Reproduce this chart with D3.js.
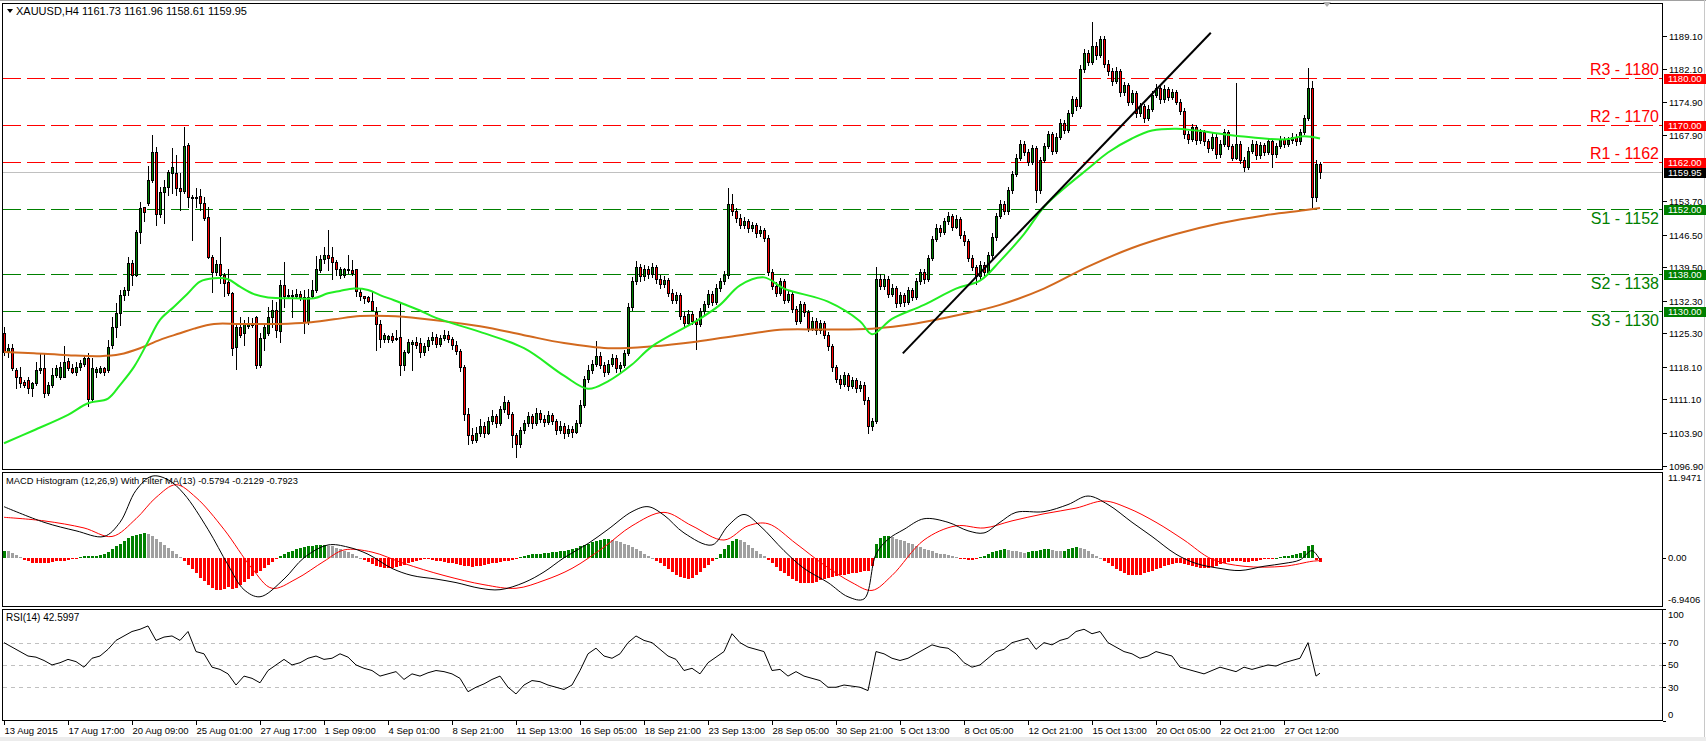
<!DOCTYPE html>
<html><head><meta charset="utf-8">
<script src="https://cdn.jsdelivr.net/npm/d3@7"></script>
<style>body{margin:0;background:#fff;overflow:hidden}svg{display:block;font-family:"Liberation Sans",Arial,sans-serif}</style>
</head><body><svg id="chart" width="1706" height="741"></svg>
<script>
// ---------------- DATA ----------------
const symbolTitle = "XAUUSD,H4  1161.73 1161.96 1158.61 1159.95";
const macdTitle = "MACD Histogram (12,26,9) With Filter MA(13) -0.5794 -0.2129 -0.7923";
const rsiTitle = "RSI(14) 42.5997";
const xTickLabels = ["13 Aug 2015","17 Aug 17:00","20 Aug 09:00","25 Aug 01:00","27 Aug 17:00","1 Sep 09:00","4 Sep 01:00","8 Sep 21:00","11 Sep 13:00","16 Sep 05:00","18 Sep 21:00","23 Sep 13:00","28 Sep 05:00","30 Sep 21:00","5 Oct 13:00","8 Oct 05:00","12 Oct 21:00","15 Oct 13:00","20 Oct 05:00","22 Oct 21:00","27 Oct 12:00"];
const xTickBars = [0,16,32,48,64,80,96,112,128,144,160,176,192,208,224,240,256,272,288,304,320];
const priceTicks = [1189.10,1182.10,1174.90,1167.90,1153.70,1146.50,1139.50,1132.30,1125.30,1118.10,1111.10,1103.90,1096.90];
const levelNames = ["R3","R2","R1","S1","S2","S3"];
const levelValues = [1180,1170,1162,1152,1138,1130];
const bidPrice = 1159.95;
const macdTopLabel = 11.9471, macdBottomLabel = -6.9406;
const rsiLevels = [70,50,30];
const rsiAxisLabels = [100,70,50,30,0];
const trendBars = [224.7, 301.7];
const trendPrices = [1121.0, 1189.8];

const opens = [
1125.3,1121.2,1122.1,1117.4,1116.0,1114.9,1115.3,1113.5,1114.6,1117.4,
1117.8,1112.4,1114.2,1116.3,1116.0,1116.0,1119.4,1117.8,1117.1,1118.1,
1118.7,1119.9,1111.3,1116.9,1117.1,1117.8,1117.4,1122.8,1126.7,1129.6,
1133.5,1134.6,1140.3,1137.8,1147.1,1152.5,1153.2,1158.2,1164.3,1150.9,
1155.7,1156.8,1159.6,1159.6,1156.4,1155.9,1165.7,1154.5,1154.6,1154.8,
1153.2,1150.2,1141.6,1138.4,1140.2,1137.8,1136.3,1133.9,1122.4,1126.7,
1125.3,1126.8,1127.4,1128.9,1118.5,1124.2,1125.3,1128.9,1130.4,1125.7,
1135.7,1133.2,1133.5,1133.2,1133.8,1133.1,1127.8,1133.3,1134.5,1138.9,
1141.2,1142.1,1141.6,1140.5,1137.8,1137.8,1139.0,1138.9,1139.0,1134.2,
1133.3,1133.1,1132.3,1129.9,1127.4,1124.0,1124.0,1124.7,1124.0,1124.6,
1118.5,1121.3,1123.0,1123.5,1123.2,1121.3,1122.5,1123.8,1124.5,1123.0,
1124.2,1125.0,1124.0,1122.8,1121.5,1118.0,1108.0,1103.5,1102.5,1104.0,
1105.5,1104.0,1106.5,1107.5,1106.0,1109.0,1110.5,1108.0,1103.5,1101.5,
1104.5,1106.0,1107.5,1106.0,1108.3,1107.0,1106.2,1107.8,1106.5,1104.5,
1105.5,1103.8,1104.8,1104.2,1106.0,1110.0,1115.5,1117.5,1118.8,1120.5,
1118.5,1117.0,1118.8,1120.0,1117.8,1118.5,1121.0,1131.0,1136.5,1139.5,
1137.5,1139.2,1138.0,1139.5,1137.0,1135.8,1136.8,1134.0,1132.5,1133.5,
1129.0,1127.5,1129.5,1128.0,1127.2,1130.0,1131.5,1133.8,1132.0,1135.0,
1136.5,1137.8,1153.0,1151.5,1150.0,1148.5,1149.3,1147.8,1148.5,1146.8,
1147.5,1145.8,1138.5,1135.5,1134.0,1136.5,1132.5,1133.8,1130.5,1128.0,
1131.5,1129.8,1126.5,1128.0,1126.0,1127.5,1125.0,1122.5,1118.0,1115.5,
1114.5,1116.3,1114.0,1115.2,1113.5,1114.3,1111.0,1105.5,1106.5,1137.0,
1135.5,1137.0,1133.8,1135.0,1131.8,1133.5,1132.0,1134.5,1133.0,1136.5,
1138.5,1137.0,1141.5,1145.5,1148.0,1147.0,1149.3,1150.5,1148.2,1149.8,
1146.5,1145.0,1141.5,1139.5,1137.5,1140.0,1138.5,1142.0,1146.0,1150.5,
1153.0,1151.5,1156.0,1159.5,1163.0,1166.0,1164.2,1162.0,1165.0,1156.0,
1162.5,1165.5,1168.0,1164.5,1167.5,1170.5,1169.0,1172.5,1175.5,1174.0,
1182.0,1185.5,1183.5,1187.0,1185.0,1188.5,1183.0,1181.5,1179.5,1181.5,
1177.0,1178.5,1175.0,1176.8,1172.5,1174.0,1171.5,1173.5,1176.5,1178.0,
1175.5,1177.8,1176.0,1177.0,1175.0,1173.0,1168.0,1167.0,1169.5,1166.8,
1168.5,1166.5,1165.0,1167.5,1163.8,1166.0,1168.5,1165.5,1163.0,1166.0,
1162.5,1161.0,1164.5,1166.0,1163.5,1165.8,1164.2,1166.5,1163.8,1165.5,
1167.0,1166.0,1166.8,1167.5,1166.5,1168.5,1171.5,1178.0,1154.5,1161.73];
const highs = [
1126.7,1123.1,1123.1,1117.8,1118.1,1115.3,1116.0,1114.9,1119.2,1121.0,
1121.0,1114.9,1117.8,1118.5,1119.2,1122.6,1119.9,1118.8,1119.2,1119.6,
1120.6,1121.0,1119.9,1118.1,1118.3,1118.1,1123.9,1128.9,1131.7,1134.6,
1135.3,1141.7,1141.0,1147.5,1153.5,1152.5,1161.1,1167.9,1165.3,1156.8,
1158.2,1160.3,1165.0,1163.6,1159.6,1169.6,1166.1,1155.0,1156.4,1156.2,
1154.6,1152.5,1142.1,1141.0,1146.0,1138.2,1139.2,1134.2,1127.4,1128.9,
1128.2,1128.9,1128.5,1129.0,1125.3,1127.1,1131.0,1132.4,1132.1,1136.8,
1140.7,1134.9,1134.6,1134.7,1134.4,1134.6,1134.9,1136.8,1141.9,1142.1,
1143.9,1147.5,1143.9,1141.0,1139.6,1139.4,1142.1,1141.0,1139.2,1134.9,
1133.3,1133.3,1134.2,1131.0,1128.2,1125.3,1125.0,1125.3,1126.0,1131.7,
1121.7,1124.0,1123.9,1124.6,1124.2,1123.2,1124.4,1125.6,1125.2,1124.9,
1126.0,1125.8,1124.6,1123.6,1122.0,1118.6,1109.2,1105.0,1105.2,1107.0,
1106.2,1107.4,1108.8,1108.0,1109.8,1111.8,1111.0,1108.4,1104.0,1105.2,
1106.8,1108.4,1108.0,1109.2,1108.9,1107.8,1108.6,1108.3,1107.0,1106.4,
1106.0,1105.6,1105.4,1106.8,1111.0,1116.2,1118.4,1119.6,1123.7,1121.2,
1119.2,1119.6,1120.8,1120.6,1119.2,1121.8,1131.8,1137.4,1140.8,1140.2,
1140.0,1139.8,1140.4,1140.0,1137.8,1137.6,1137.2,1134.8,1134.2,1134.0,
1129.8,1130.2,1130.0,1128.6,1130.8,1132.2,1134.6,1134.4,1135.8,1137.2,
1138.6,1156.5,1155.2,1152.2,1150.8,1150.2,1149.8,1149.2,1149.0,1148.4,
1148.0,1146.4,1139.2,1136.4,1137.2,1137.0,1134.6,1134.4,1131.2,1132.2,
1132.0,1130.4,1128.8,1128.6,1128.2,1128.0,1125.6,1123.0,1118.6,1116.4,
1117.0,1116.8,1116.0,1115.8,1115.0,1114.8,1111.6,1107.2,1139.5,1138.0,
1137.8,1137.6,1135.8,1135.4,1134.2,1134.0,1135.2,1135.0,1137.2,1139.2,
1139.0,1142.2,1146.2,1148.8,1148.6,1150.0,1151.4,1151.0,1150.6,1150.2,
1147.2,1145.6,1142.2,1140.0,1140.8,1140.6,1142.8,1146.8,1151.2,1153.8,
1153.6,1156.8,1160.2,1163.8,1166.8,1166.6,1164.8,1165.8,1165.6,1163.2,
1166.2,1168.8,1168.6,1168.2,1171.2,1171.0,1173.2,1176.2,1176.0,1182.8,
1186.4,1186.0,1192.0,1187.8,1189.2,1189.2,1184.0,1182.2,1182.4,1182.0,
1179.2,1179.0,1177.6,1177.2,1174.8,1174.6,1174.2,1177.2,1178.8,1178.6,
1178.6,1178.2,1177.8,1177.6,1175.6,1173.6,1168.8,1170.2,1170.0,1169.2,
1169.0,1167.0,1168.2,1168.0,1166.8,1169.2,1169.0,1166.0,1179.0,1166.6,
1163.2,1165.2,1166.8,1166.6,1166.4,1166.2,1167.2,1167.0,1166.2,1167.6,
1167.4,1167.4,1168.2,1168.0,1169.2,1172.2,1182.3,1179.4,1162.5,1161.96];
const lows = [
1120.6,1120.3,1117.4,1113.5,1113.8,1113.8,1112.4,1111.8,1114.2,1116.7,
1111.7,1112.0,1113.8,1116.0,1115.6,1115.9,1117.4,1116.7,1116.3,1117.4,
1118.3,1109.6,1110.6,1116.0,1116.7,1116.3,1117.1,1122.1,1124.6,1127.1,
1132.4,1133.5,1135.7,1137.5,1144.6,1149.3,1152.8,1157.8,1148.5,1150.3,
1148.9,1155.0,1155.3,1155.0,1151.8,1155.3,1152.5,1145.3,1152.5,1151.8,
1149.6,1141.4,1134.2,1137.8,1136.0,1133.2,1133.5,1120.6,1117.6,1124.6,
1122.8,1126.4,1126.6,1117.8,1118.1,1121.7,1124.9,1126.7,1124.6,1123.5,
1131.0,1132.8,1128.9,1133.0,1132.4,1125.3,1127.4,1132.8,1134.2,1138.5,
1140.3,1138.9,1136.9,1137.8,1137.1,1137.4,1138.2,1137.8,1133.2,1132.4,
1131.7,1132.1,1130.3,1121.7,1122.4,1123.5,1123.4,1123.5,1123.9,1116.3,
1117.4,1121.0,1117.4,1122.1,1120.3,1120.6,1121.8,1123.0,1122.4,1122.6,
1123.8,1123.5,1122.0,1120.8,1117.2,1106.8,1101.5,1101.8,1101.9,1103.2,
1103.0,1103.6,1105.8,1105.2,1105.6,1108.4,1107.2,1101.0,1098.8,1100.8,
1103.8,1105.4,1105.0,1105.6,1106.2,1105.4,1105.8,1105.8,1103.6,1103.9,
1102.8,1103.2,1103.1,1103.8,1105.5,1109.4,1114.8,1116.8,1118.2,1117.8,
1116.2,1116.5,1118.2,1117.0,1116.8,1118.0,1120.6,1130.2,1135.8,1136.6,
1136.8,1137.2,1137.4,1136.2,1135.0,1135.2,1133.4,1131.8,1131.9,1128.4,
1126.8,1127.0,1127.4,1122.0,1126.8,1129.5,1131.0,1131.4,1131.6,1134.4,
1135.9,1137.2,1150.6,1149.2,1147.8,1148.0,1147.0,1147.2,1146.0,1146.2,
1145.0,1137.8,1134.8,1133.2,1133.6,1131.8,1132.0,1129.8,1127.2,1127.6,
1129.0,1125.8,1126.0,1125.2,1125.4,1124.2,1121.8,1117.2,1114.8,1113.6,
1114.0,1113.2,1113.5,1112.8,1113.0,1110.2,1104.0,1104.6,1106.0,1134.8,
1134.9,1133.0,1133.2,1131.0,1131.2,1131.2,1131.6,1132.4,1132.6,1135.9,
1136.2,1136.5,1141.0,1145.0,1146.2,1146.6,1148.8,1147.4,1147.8,1145.8,
1144.2,1140.8,1138.8,1135.8,1137.0,1137.8,1138.0,1141.4,1145.4,1150.0,
1150.8,1151.0,1155.4,1159.0,1162.4,1163.6,1161.4,1161.6,1153.5,1155.4,
1162.0,1165.0,1163.8,1164.0,1167.0,1168.2,1168.6,1172.0,1173.2,1173.6,
1181.4,1182.8,1183.0,1184.2,1184.6,1182.4,1180.8,1178.6,1179.0,1176.2,
1176.4,1174.2,1174.6,1171.8,1172.0,1170.6,1171.0,1173.0,1176.0,1174.8,
1175.0,1175.4,1175.6,1174.4,1172.4,1167.2,1166.2,1166.6,1166.0,1166.2,
1165.8,1164.2,1164.6,1163.0,1163.2,1165.4,1164.8,1162.4,1162.6,1161.8,
1160.2,1160.6,1164.0,1162.8,1163.0,1163.6,1163.8,1161.0,1163.2,1165.0,
1165.2,1165.4,1166.2,1165.8,1166.0,1168.0,1171.0,1152.3,1153.6,1158.61];
const closes = [
1121.3,1122.1,1117.8,1116.0,1114.6,1114.2,1113.5,1114.6,1117.4,1117.8,
1112.4,1114.2,1116.3,1117.8,1118.1,1119.2,1117.8,1117.1,1118.1,1118.9,
1119.9,1111.3,1117.8,1117.6,1117.8,1117.1,1122.4,1126.7,1129.6,1133.5,
1134.6,1140.3,1137.8,1147.1,1152.1,1151.4,1158.2,1164.3,1150.9,1155.7,
1156.8,1160.0,1160.9,1156.4,1155.9,1165.5,1154.5,1154.6,1154.5,1153.2,
1150.0,1141.6,1138.4,1140.2,1137.8,1136.0,1133.9,1122.1,1126.7,1124.9,
1127.4,1127.4,1127.1,1118.5,1124.2,1126.7,1128.9,1130.4,1126.0,1135.7,
1133.2,1133.5,1133.2,1133.8,1133.1,1127.8,1133.1,1134.6,1139.0,1141.2,
1142.1,1141.4,1140.5,1139.2,1139.0,1139.0,1138.9,1138.2,1134.4,1133.3,
1132.8,1132.3,1130.3,1127.4,1124.0,1124.9,1124.8,1123.9,1124.3,1118.5,
1121.3,1123.5,1123.5,1122.8,1121.3,1122.5,1123.8,1124.5,1123.0,1124.2,
1125.0,1124.0,1122.8,1121.5,1118.0,1108.0,1103.5,1102.5,1104.0,1105.5,
1104.0,1106.5,1107.5,1106.0,1109.0,1110.5,1108.0,1103.5,1101.5,1104.5,
1106.0,1107.5,1106.0,1108.3,1107.0,1106.2,1107.8,1106.5,1104.5,1105.5,
1103.8,1104.8,1104.2,1106.0,1110.0,1115.5,1117.5,1118.8,1120.5,1118.5,
1117.0,1118.8,1120.0,1117.8,1118.5,1121.0,1131.0,1136.5,1139.5,1137.5,
1139.2,1138.0,1139.5,1137.0,1135.8,1136.8,1134.0,1132.5,1133.5,1129.0,
1127.5,1129.5,1128.0,1127.2,1130.0,1131.5,1133.8,1132.0,1135.0,1136.5,
1137.8,1153.0,1151.5,1150.0,1148.5,1149.3,1147.8,1148.5,1146.8,1147.5,
1145.8,1138.5,1135.5,1134.0,1136.5,1132.5,1133.8,1130.5,1128.0,1131.5,
1129.8,1126.5,1128.0,1126.0,1127.5,1125.0,1122.5,1118.0,1115.5,1114.5,
1116.3,1114.0,1115.2,1113.5,1114.3,1111.0,1105.5,1106.5,1137.0,1135.5,
1137.0,1133.8,1135.0,1131.8,1133.5,1132.0,1134.5,1133.0,1136.5,1138.5,
1137.0,1141.5,1145.5,1148.0,1147.0,1149.3,1150.5,1148.2,1149.8,1146.5,
1145.0,1141.5,1139.5,1137.5,1140.0,1138.5,1142.0,1146.0,1150.5,1153.0,
1151.5,1156.0,1159.5,1163.0,1166.0,1164.2,1162.0,1165.0,1156.0,1162.5,
1165.5,1168.0,1164.5,1167.5,1170.5,1169.0,1172.5,1175.5,1174.0,1182.0,
1185.5,1183.5,1187.0,1185.0,1188.5,1183.0,1181.5,1179.5,1181.5,1177.0,
1178.5,1175.0,1176.8,1172.5,1174.0,1171.5,1173.5,1176.5,1178.0,1175.5,
1177.8,1176.0,1177.0,1175.0,1173.0,1168.0,1167.0,1169.5,1166.8,1168.5,
1166.5,1165.0,1167.5,1163.8,1166.0,1168.5,1165.5,1163.0,1166.0,1162.5,
1161.0,1164.5,1166.0,1163.5,1165.8,1164.2,1166.5,1163.8,1165.5,1167.0,
1166.0,1166.8,1167.5,1166.5,1168.5,1171.5,1178.0,1154.5,1161.7,1159.95];

const maFastBars = [0,7.5,16,21,26,29,32.5,36,39,42.5,46,49,52.5,56,59,62.5,66,72.5,77.5,81,84,87.5,91,94,97.5,101,104,108,119,130,140,146,151,157,162,173,179,184,190,195,206,214,217,222,230,238,244,249,255,260,266,271,276,282,287,293,298,309,320,325,329];
const maFastValues = [1101.7,1104.5,1107.8,1110.3,1111.3,1114.2,1118.1,1123.5,1128.2,1131.0,1133.9,1136.4,1137.1,1136.9,1135.3,1133.7,1133.0,1132.8,1132.8,1133.9,1134.4,1134.9,1134.6,1133.5,1132.4,1131.2,1130.2,1128.6,1125.6,1122.1,1116.2,1113.4,1115.0,1118.6,1122.5,1127.9,1131.4,1135.6,1137.3,1134.9,1132.1,1127.9,1125.1,1128.4,1131.4,1134.9,1136.6,1140.8,1146.6,1152.4,1157.1,1160.6,1164.1,1167.1,1168.8,1169.2,1168.8,1167.6,1166.9,1167.6,1167.1];
const maSlowBars = [0,7.5,16,24,29,34,39,44,47.5,52.5,59,69,76,82.5,89,96,104,119,130,140,151,162,173,184,195,206,217,228,238,249,260,271,282,293,304,315,325,329];
const maSlowValues = [1121.3,1121.0,1120.6,1120.4,1120.8,1122.1,1123.9,1125.3,1126.3,1127.3,1127.3,1127.3,1127.6,1128.3,1129.0,1129.0,1128.5,1126.8,1124.9,1123.2,1122.1,1122.5,1123.5,1124.9,1126.1,1126.1,1126.3,1127.4,1129.1,1131.4,1134.9,1139.6,1143.6,1146.6,1148.9,1150.6,1151.7,1152.2];

const macdHist = [
1.0,0.9,0.7,0.4,0.1,-0.3,-0.5,-0.7,-0.8,-0.8,
-0.7,-0.7,-0.6,-0.5,-0.5,-0.4,-0.3,-0.2,-0.1,0.1,
0.2,0.2,0.3,0.3,0.4,0.5,0.8,1.2,1.6,2.0,
2.4,2.8,3.0,3.2,3.4,3.5,3.3,3.0,2.6,2.2,
1.8,1.4,1.0,0.5,0.1,-0.4,-1.0,-1.6,-2.2,-2.8,
-3.3,-3.8,-4.2,-4.5,-4.6,-4.4,-4.1,-4.4,-4.2,-3.8,
-3.4,-3.0,-2.6,-2.2,-1.8,-1.4,-1.0,-0.6,-0.2,0.2,
0.5,0.8,1.0,1.2,1.4,1.5,1.6,1.7,1.8,1.8,
1.8,1.7,1.6,1.4,1.2,1.0,0.8,0.5,0.3,0.0,
-0.3,-0.6,-0.9,-1.1,-1.3,-1.4,-1.5,-1.4,-1.3,-1.2,
-1.0,-0.8,-0.6,-0.4,-0.3,-0.2,-0.2,-0.3,-0.4,-0.5,
-0.6,-0.7,-0.8,-0.9,-1.0,-1.1,-1.2,-1.3,-1.2,-1.1,
-1.0,-0.9,-0.8,-0.7,-0.6,-0.5,-0.4,-0.3,-0.2,0.1,
0.3,0.4,0.5,0.6,0.6,0.7,0.7,0.8,0.8,0.9,
1.0,1.1,1.2,1.4,1.6,1.8,2.0,2.2,2.4,2.5,
2.6,2.6,2.5,2.4,2.2,2.0,1.8,1.5,1.2,0.9,
0.6,0.3,0.0,-0.4,-0.8,-1.2,-1.6,-2.0,-2.4,-2.7,
-2.9,-3.0,-2.8,-2.4,-2.0,-1.5,-1.0,-0.5,0.0,0.6,
1.2,1.8,2.3,2.6,2.5,2.2,1.8,1.4,1.0,0.6,
0.2,-0.3,-0.8,-1.3,-1.8,-2.2,-2.6,-3.0,-3.3,-3.5,
-3.6,-3.6,-3.5,-3.4,-3.2,-3.0,-2.8,-2.7,-2.6,-2.5,
-2.4,-2.3,-2.2,-2.1,-2.0,-1.9,-1.8,-1.2,2.0,2.8,
3.0,3.0,2.9,2.7,2.5,2.3,2.1,1.9,1.7,1.5,
1.3,1.1,0.9,0.7,0.6,0.5,0.4,0.3,0.1,-0.1,
-0.2,-0.3,-0.3,-0.2,0.1,0.3,0.6,0.8,1.0,1.1,
1.2,1.1,1.0,0.9,0.8,0.7,0.8,0.9,1.0,1.1,
1.2,1.2,1.1,1.0,0.9,1.0,1.2,1.4,1.5,1.4,
1.2,0.9,0.6,0.3,0.0,-0.4,-0.8,-1.2,-1.6,-1.9,
-2.2,-2.4,-2.5,-2.5,-2.4,-2.2,-2.0,-1.8,-1.6,-1.4,
-1.2,-1.0,-0.9,-0.8,-0.8,-0.9,-1.0,-1.2,-1.3,-1.5,
-1.5,-1.4,-1.3,-1.1,-0.9,-0.7,-0.6,-0.5,-0.4,-0.5,
-0.6,-0.6,-0.5,-0.4,-0.3,-0.2,-0.2,-0.1,0.0,0.1,
0.2,0.3,0.4,0.5,0.7,1.0,1.6,1.8,-0.3,-0.6];
const macdLineBars = [0,10,18,25,29,33,37,41,45,51,56,60,64,70,75,81,86,91,97,102,108,113,119,124,130,135,140,146,151,157,161,165,170,177,181,185,189,195,200,206,211,215,218,221,225,230,236,241,245,249,253,260,266,271,276,282,287,293,298,304,309,315,320,324,327,329];
const macdLineValues = [7.2,5.0,3.8,3.0,5.0,9.5,11.5,11.0,9.0,4.0,-1.0,-4.5,-5.5,-3.0,0.0,1.8,1.5,0.5,-1.5,-2.5,-3.0,-3.5,-4.3,-4.5,-3.5,-2.0,0.0,2.0,4.0,6.5,7.2,6.0,3.5,1.8,4.5,6.1,4.5,1.0,-1.5,-3.5,-5.5,-5.8,0.5,2.6,4.0,5.5,5.0,3.8,3.5,5.0,6.4,6.5,7.5,8.7,7.5,5.0,3.0,0.5,-0.8,-1.5,-1.8,-1.2,-0.8,-0.3,1.0,-0.3];
const signalBars = [0,10,20,27,33,38,43,48,55,62,67,73,80,85,92,100,110,120,128,135,142,150,157,165,172,180,186,191,198,205,212,217,222,230,238,245,252,260,268,275,281,288,295,302,310,320,327,329];
const signalValues = [5.7,5.2,4.2,3.0,5.5,8.5,10.3,8.5,4.0,-1.5,-4.3,-3.0,-0.5,1.1,0.8,-0.8,-2.5,-3.8,-4.3,-3.2,-1.5,1.5,4.5,6.4,4.5,2.5,4.5,4.8,2.0,-1.0,-3.5,-4.6,-2.5,2.5,4.5,4.2,5.2,6.2,7.0,8.0,7.0,5.0,2.5,-0.2,-1.2,-1.2,-0.5,-0.4];
const rsiValues = [
70,66,62,58,57,54,50,52,55,53,48,56,58,
64,72,76,80,82,85,72,
75,76,72,80,62,60,48,
46,42,32,40,38,34,45,
50,55,50,52,56,58,55,56,60,57,
50,47,45,40,42,44,37,
42,40,43,45,44,42,38,
26,30,33,37,40,30,24,
32,36,35,32,30,28,32,45,
60,65,58,56,60,70,
76,72,70,64,58,55,
45,47,42,52,57,62,
78,70,66,64,62,45,
46,40,44,40,38,36,30,30,
32,31,30,27,
62,60,56,54,56,60,64,68,
66,65,60,52,48,50,56,
62,64,70,72,74,64,70,
68,72,74,80,82,78,80,
70,66,62,60,56,58,62,
60,58,48,46,44,42,45,
48,46,44,48,46,48,50,
49,52,54,56,70,40,42.6];

// ---------------- LAYOUT ----------------
const svg = d3.select('#chart');
const FONT = '"Liberation Sans", Arial, sans-serif';
const nBars = opens.length;
const x = d3.scaleLinear().domain([0, nBars - 1]).range([4, 1320]);
const px = i => Math.round(x(i)) + 0.5;
const yP = d3.scaleLinear().domain([1096.18, 1195.75]).range([469, 5]);
const yM = d3.scaleLinear().domain([macdBottomLabel, macdTopLabel]).range([607, 473]);
const yR = d3.scaleLinear().domain([0, 100]).range([720.7, 609.2]);
const rp = v => Math.round(v) + 0.5;

svg.append('rect').attr('width', 1706).attr('height', 741).attr('fill', '#fff');
svg.append('rect').attr('x', 0).attr('y', 737).attr('width', 1706).attr('height', 4).attr('fill', '#ececec');
svg.append('line').attr('x1', 0).attr('x2', 1706).attr('y1', 0.5).attr('y2', 0.5).attr('stroke', '#a0a0a0');
svg.append('line').attr('x1', 1704.5).attr('x2', 1704.5).attr('y1', 0).attr('y2', 737).attr('stroke', '#c8c8c8');

const defs = svg.append('defs');
function clip(id, x0, y0, w, h) { defs.append('clipPath').attr('id', id).append('rect').attr('x', x0).attr('y', y0).attr('width', w).attr('height', h); }
clip('cMain', 3, 4, 1659, 465); clip('cMacd', 3, 473, 1659, 133); clip('cRsi', 3, 610, 1659, 110);

const gMain = svg.append('g').attr('clip-path', 'url(#cMain)');
const gMacd = svg.append('g').attr('clip-path', 'url(#cMacd)');
const gRsi = svg.append('g').attr('clip-path', 'url(#cRsi)');

// --- level lines ---
levelValues.forEach((v, i) => {
  const col = levelNames[i][0] === 'R' ? '#ff0000' : '#008000';
  gMain.append('line').attr('x1', 3).attr('x2', 1662).attr('y1', rp(yP(v))).attr('y2', rp(yP(v)))
    .attr('stroke', col).attr('stroke-dasharray', '18,6');
});
gMain.append('line').attr('x1', 3).attr('x2', 1662).attr('y1', rp(yP(bidPrice))).attr('y2', rp(yP(bidPrice))).attr('stroke', '#c0c0c0');

// --- candles ---
const candles = gMain.append('g').attr('shape-rendering', 'crispEdges');
d3.range(nBars).forEach(i => {
  const o = opens[i], h = highs[i], l = lows[i], c = closes[i];
  const cx = px(i);
  candles.append('line').attr('x1', cx).attr('x2', cx).attr('y1', Math.round(yP(h))).attr('y2', Math.round(yP(l)) + 1).attr('stroke', '#000');
  const top = Math.round(yP(Math.max(o, c))), bot = Math.round(yP(Math.min(o, c)));
  candles.append('rect').attr('x', cx - 1).attr('y', top + 0.5).attr('width', 2).attr('height', Math.max(bot - top, 1))
    .attr('fill', c >= o ? '#008000' : '#ff0000').attr('stroke', '#000');
});

// --- moving averages ---
const line = d3.line().curve(d3.curveCatmullRom.alpha(0.5));
gMain.append('path').attr('d', line(maSlowBars.map((b, i) => [x(b), yP(maSlowValues[i])])))
  .attr('fill', 'none').attr('stroke', '#d2691e').attr('stroke-width', 2);
gMain.append('path').attr('d', line(maFastBars.map((b, i) => [x(b), yP(maFastValues[i])])))
  .attr('fill', 'none').attr('stroke', '#22ee22').attr('stroke-width', 2);

// --- trend line ---
gMain.append('line').attr('x1', x(trendBars[0])).attr('y1', yP(trendPrices[0])).attr('x2', x(trendBars[1])).attr('y2', yP(trendPrices[1]))
  .attr('stroke', '#000').attr('stroke-width', 2);

// --- level labels ---
levelValues.forEach((v, i) => {
  const isR = levelNames[i][0] === 'R';
  svg.append('text').attr('x', 1659).attr('y', isR ? yP(v) - 3 : yP(v) + 15).attr('text-anchor', 'end')
    .attr('font-family', FONT).attr('font-size', 16).attr('fill', isR ? '#ff0000' : '#008000')
    .text(levelNames[i] + ' - ' + v);
});

// --- MACD panel ---
const hist = gMacd.append('g').attr('shape-rendering', 'crispEdges');
macdHist.forEach((v, i) => {
  const prev = i > 0 ? macdHist[i - 1] : v;
  const col = v < 0 ? '#ff0000' : (v >= prev ? '#008000' : '#a0a0a0');
  const y0 = yM(0), y1 = yM(v);
  hist.append('rect').attr('x', px(i) - 1.5).attr('width', 3).attr('y', Math.min(y0, y1)).attr('height', Math.max(Math.abs(y1 - y0), 1)).attr('fill', col);
});
const lineM = d3.line().curve(d3.curveCatmullRom.alpha(0.5));
gMacd.append('path').attr('d', lineM(signalBars.map((b, i) => [x(b), yM(signalValues[i])]))).attr('fill', 'none').attr('stroke', '#ff0000').attr('stroke-width', 1);
gMacd.append('path').attr('d', lineM(macdLineBars.map((b, i) => [x(b), yM(macdLineValues[i])]))).attr('fill', 'none').attr('stroke', '#000').attr('stroke-width', 1);

// --- RSI panel ---
rsiLevels.forEach(v => {
  gRsi.append('line').attr('x1', 3).attr('x2', 1662).attr('y1', rp(yR(v))).attr('y2', rp(yR(v))).attr('stroke', '#c0c0c0').attr('stroke-dasharray', '4,4');
});
const rsiBars = rsiValues.map((v, k) => Math.min(k * 2, nBars - 1));
gRsi.append('path').attr('d', d3.line()(rsiValues.map((v, k) => [x(rsiBars[k]), yR(v)]))).attr('fill', 'none').attr('stroke', '#000').attr('stroke-width', 1);

// --- frames ---
const frames = svg.append('g').attr('fill', 'none').attr('stroke', '#000').attr('shape-rendering', 'crispEdges');
frames.append('rect').attr('x', 2.5).attr('y', 3.5).attr('width', 1660).attr('height', 466);
frames.append('rect').attr('x', 2.5).attr('y', 472.5).attr('width', 1660).attr('height', 134);
frames.append('rect').attr('x', 2.5).attr('y', 609.5).attr('width', 1660).attr('height', 111);

// --- price axis ---
const axisG = svg.append('g').attr('font-family', FONT).attr('font-size', 9.5).attr('fill', '#000');
priceTicks.forEach(v => {
  const y = rp(yP(v));
  axisG.append('line').attr('x1', 1663).attr('x2', 1667).attr('y1', y).attr('y2', y).attr('stroke', '#000');
  axisG.append('text').attr('x', 1669).attr('y', y + 3).text(v.toFixed(2));
});
function tag(v, col) {
  const y = Math.round(yP(v));
  svg.append('rect').attr('x', 1664).attr('y', y - 4).attr('width', 42).attr('height', 10).attr('fill', col);
  svg.append('text').attr('x', 1668).attr('y', y + 4).attr('font-family', FONT).attr('font-size', 9.5).attr('fill', '#fff').text(v.toFixed(2));
}
levelValues.forEach((v, i) => tag(v, levelNames[i][0] === 'R' ? '#ff0000' : '#008000'));
tag(bidPrice, '#000');

// MACD axis
axisG.append('text').attr('x', 1668).attr('y', 481).text(String(macdTopLabel));
axisG.append('line').attr('x1', 1663).attr('x2', 1666).attr('y1', rp(yM(0))).attr('y2', rp(yM(0))).attr('stroke', '#000');
axisG.append('text').attr('x', 1668).attr('y', yM(0) + 3).text('0.00');
axisG.append('text').attr('x', 1668).attr('y', 603).text(String(macdBottomLabel));
// RSI axis
rsiAxisLabels.forEach(v => {
  let y = yR(v) + 3.5;
  if (v === 100) y = 618; if (v === 0) y = 718;
  axisG.append('line').attr('x1', 1663).attr('x2', 1666).attr('y1', rp(yR(v))).attr('y2', rp(yR(v))).attr('stroke', '#000');
  axisG.append('text').attr('x', 1668).attr('y', y).text(String(v));
});

// --- time axis ---
xTickBars.forEach((b, k) => {
  const xx = px(b);
  axisG.append('line').attr('x1', xx).attr('x2', xx).attr('y1', 721).attr('y2', 725).attr('stroke', '#000');
  axisG.append('text').attr('x', xx).attr('y', 734).text(xTickLabels[k]);
});

// --- titles ---
svg.append('path').attr('d', 'M7,9 L13,9 L10,13 Z').attr('fill', '#000');
svg.append('text').attr('x', 16).attr('y', 15).attr('font-family', FONT).attr('font-size', 11).text(symbolTitle);
svg.append('text').attr('x', 6).attr('y', 484).attr('font-family', FONT).attr('font-size', 9.3).text(macdTitle);
svg.append('text').attr('x', 6).attr('y', 621).attr('font-family', FONT).attr('font-size', 10).text(rsiTitle);
svg.append('path').attr('d', 'M1323,2 L1331,2 L1327,7 Z').attr('fill', '#b0b0b0');
</script>
</body></html>
